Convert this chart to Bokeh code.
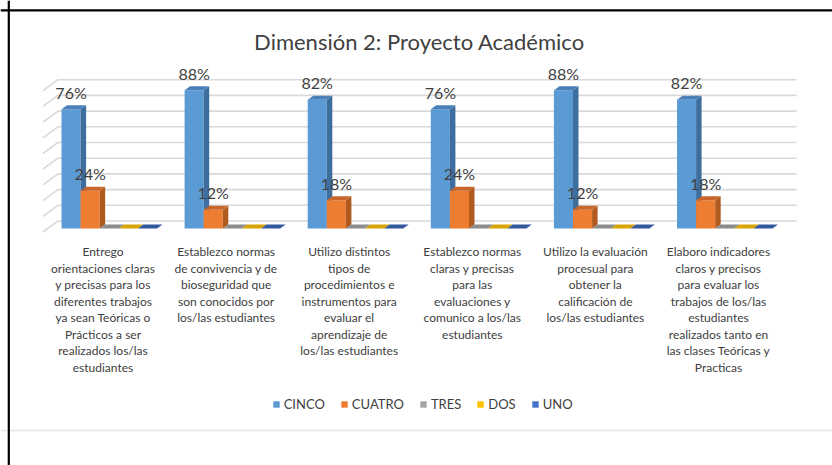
from bokeh.plotting import figure
from bokeh.models import Range1d, Span, Label, Legend, LegendItem
from bokeh.core.properties import value
from bokeh.embed import file_html
from bokeh.resources import INLINE

# ---------------- data ----------------
categories = [
    "Entrego\norientaciones claras\ny precisas para los\ndiferentes trabajos\nya sean Teóricas o\nPrácticos a ser\nrealizados los/las\nestudiantes",
    "Establezco normas\nde convivencia y de\nbioseguridad que\nson conocidos por\nlos/las estudiantes",
    "Utilizo distintos\ntipos de\nprocedimientos e\ninstrumentos para\nevaluar el\naprendizaje de\nlos/las estudiantes",
    "Establezco normas\nclaras y precisas\npara las\nevaluaciones y\ncomunico a los/las\nestudiantes",
    "Utilizo la evaluación\nprocesual para\nobtener la\ncalificación de\nlos/las estudiantes",
    "Elaboro indicadores\nclaros y precisos\npara evaluar los\ntrabajos de los/las\nestudiantes\nrealizados tanto en\nlas clases Teóricas y\nPracticas",
]
series_names = ["CINCO", "CUATRO", "TRES", "DOS", "UNO"]
cinco = [76, 88, 82, 76, 88, 82]
cuatro = [24, 12, 18, 24, 12, 18]
tres = [0, 0, 0, 0, 0, 0]
dos = [0, 0, 0, 0, 0, 0]
uno = [0, 0, 0, 0, 0, 0]
series_values = [cinco, cuatro, tres, dos, uno]
grid_ticks = [0, 10, 20, 30, 40, 50, 60, 70, 80, 90]
title_text = "Dimensión 2: Proyecto Académico"

front_colors = ["#5B9BD5", "#ED7D31", "#A5A5A5", "#FFC000", "#4472C4"]
side_colors = ["#3E6E9E", "#B05A20", "#7A7A7A", "#BF9000", "#2F5597"]
top_colors = ["#4A80B8", "#C9662A", "#8C8C8C", "#D9A300", "#34589E"]

# ---------------- layout (pixels) ----------------
W, H = 832, 465
X0_PAGE = 47.2        # page x of category 0 left edge on bar plane
Y0_PAGE = 228.0       # page y of value 0 on bar plane
PX_PER_CAT = 123.1
PX_PER_PCT = 1.57
GROUP_OFF_PX = 13.8
BAR_W_PX = 19.1
BAR_DX_PX, BAR_DY_PX = 5.5, 4.0
WALL_DX_PX, WALL_DY_PX = 15.0, 11.0


def ux(px):
    return px / PX_PER_CAT


def uv(px):
    return px / PX_PER_PCT


def page_x(px):
    return (px - X0_PAGE) / PX_PER_CAT


def page_y(py):
    return (Y0_PAGE - py) / PX_PER_PCT


p = figure(width=W, height=H, output_backend="svg", toolbar_location=None,
           x_axis_location=None, y_axis_location=None, min_border=0,
           x_range=Range1d(page_x(0), page_x(W)),
           y_range=Range1d(page_y(H), page_y(0)))
p.outline_line_color = None
p.grid.visible = False
p.background_fill_color = "white"
p.border_fill_color = "white"

n = len(categories)

# ---------------- walls / gridlines ----------------
fx = -ux((WALL_DX_PX - BAR_DX_PX) / 2)      # front wall offset (x)
fy = -uv((WALL_DY_PX - BAR_DY_PX) / 2)      # front wall offset (value)
bx = fx + ux(WALL_DX_PX)
by = fy + uv(WALL_DY_PX)
x_end = n + bx
gxs, gys = [], []
for t in grid_ticks:
    gxs.append([fx, bx, x_end])
    gys.append([t + fy, t + by, t + by])
p.multi_line(gxs, gys, line_color="#d9d9d9", line_width=1.6)

# ---------------- 3D bars ----------------
bw = ux(BAR_W_PX)
goff = ux(GROUP_OFF_PX)
ddx = ux(BAR_DX_PX)
ddy = uv(BAR_DY_PX)
legend_items = []
for j, vals in enumerate(series_values):
    left = [i + goff + j * bw for i in range(n)]
    right = [l + bw for l in left]
    r = p.quad(left=left, right=right, bottom=[0] * n, top=vals,
               fill_color=front_colors[j], line_color=None)
    legend_items.append(LegendItem(label=series_names[j], renderers=[r]))
    side_xs = [[rr, rr + ddx, rr + ddx, rr] for rr in right]
    side_ys = [[0, ddy, v + ddy, v] for v in vals]
    p.patches(side_xs, side_ys, fill_color=side_colors[j], line_color=None)
    top_xs = [[l, rr, rr + ddx, l + ddx] for l, rr in zip(left, right)]
    top_ys = [[v, v, v + ddy, v + ddy] for v in vals]
    p.patches(top_xs, top_ys, fill_color=top_colors[j], line_color=None)

# ---------------- data labels ----------------
lx, ly, lt = [], [], []
for j, vals in enumerate(series_values):
    for i, v in enumerate(vals):
        if v > 0:
            lx.append(i + goff + j * bw + bw / 2)
            ly.append(v + uv(17))
            lt.append(f"{v}%")
p.text(x=lx, y=ly, text=lt, text_align="center", text_baseline="middle",
       text_font=value("Lato"), text_font_size="16px", text_color="#404040")

# ---------------- category labels ----------------
cx = [i + 0.5 + fx - ux(1.5) for i in range(n)]
cy = [page_y(243.5)] * n
p.text(x=cx, y=cy, text=categories, text_align="center", text_baseline="top",
       text_font=value("Lato"), text_font_size="12px", text_color="#404040",
       text_line_height=1.1)

# ---------------- title ----------------
p.add_layout(Label(x=page_x(419), y=page_y(41), text=title_text,
                   text_align="center", text_baseline="middle",
                   text_font="Lato", text_font_size="22px", text_color="#404040"))

# ---------------- legend ----------------
legend = Legend(items=legend_items, orientation="horizontal",
                location=(271.7, H - 412),
                glyph_width=8, glyph_height=8, label_standoff=4, spacing=15,
                padding=0, margin=0, label_height=14,
                label_text_font="Lato", label_text_font_size="13px",
                label_text_color="#404040",
                border_line_color=None, background_fill_alpha=0)
p.add_layout(legend, "center")

# ---------------- frame decorations ----------------
p.add_layout(Span(location=page_y(430), dimension="width",
                  line_color="#ebebeb", line_width=2))
p.add_layout(Span(location=page_y(9.8), dimension="width",
                  line_color="black", line_width=2.2))
p.add_layout(Span(location=page_x(8.3), dimension="height",
                  line_color="black", line_width=2.2))

open("out.html", "w").write(file_html(p, INLINE))
